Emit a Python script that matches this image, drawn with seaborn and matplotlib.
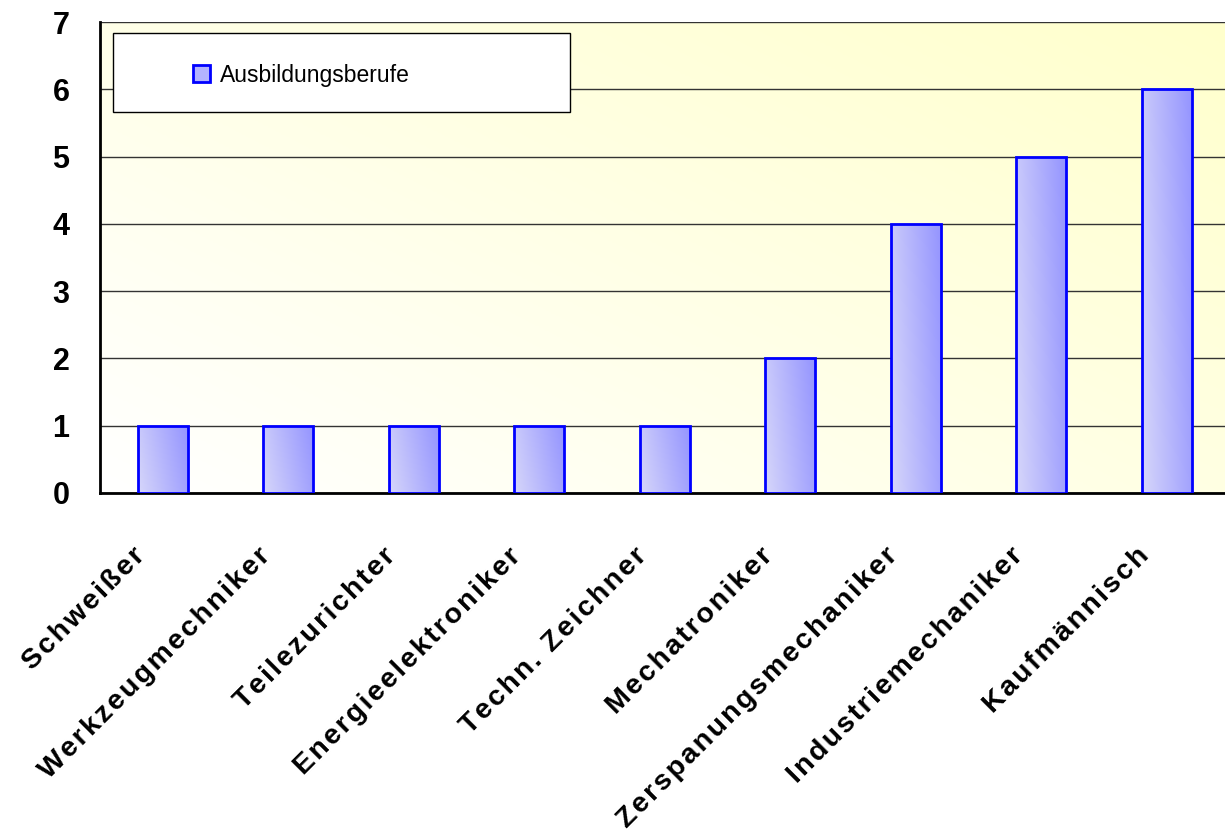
import numpy as np
import matplotlib
matplotlib.use('Agg')
import matplotlib.pyplot as plt
import matplotlib.transforms as mtransforms
from matplotlib.patches import Rectangle
import seaborn as sns

# Daten
berufe = ['Schweißer', 'Werkzeugmechniker', 'Teilezurichter', 'Energieelektroniker',
          'Techn. Zeichner', 'Mechatroniker', 'Zerspanungsmechaniker',
          'Industriemechaniker', 'Kaufmännisch']
anzahl = [1, 1, 1, 1, 1, 2, 4, 5, 6]
serie = 'Ausbildungsberufe'
y_ticks = [0, 1, 2, 3, 4, 5, 6, 7]

sns.set_style('white')
plt.rcParams['font.family'] = ['Liberation Sans', 'DejaVu Sans']
plt.rcParams['text.color'] = 'black'
plt.rcParams['xtick.color'] = 'black'
plt.rcParams['ytick.color'] = 'black'

fig = plt.figure(figsize=(12.25, 8.34), dpi=100)
rect = [100 / 1225, 1 - 493 / 834, 1125 / 1225, 471 / 834]

# Hintergrund mit Verlauf (weiß -> hellgelb)
bg = fig.add_axes(rect, zorder=0)
gx, gy = np.meshgrid(np.linspace(0, 1, 200), np.linspace(1, 0, 200))
t = (gx * 0.55 + gy * 0.45)
c0 = np.array([1.0, 1.0, 1.0])
c1 = np.array([1.0, 1.0, 0.80])
grad = c0 + (c1 - c0) * t[..., None]
bg.imshow(grad, extent=[0, 1, 0, 1], aspect='auto', origin='upper')
bg.axis('off')

ax = fig.add_axes(rect, zorder=1)
ax.set_facecolor('none')

sns.barplot(x=berufe, y=anzahl, ax=ax, width=0.4, color='#B3B3FF',
            edgecolor='#0000FF', linewidth=2, label=serie, saturation=1, zorder=3)

ax.set_xlim(-0.5, 8.464)
ax.set_ylim(0, 7)
ax.set_yticks(y_ticks)
ax.set_yticklabels([str(v) for v in y_ticks], fontsize=22, fontweight='bold')
ax.yaxis.grid(True, color='#333333', lw=1)
ax.set_axisbelow(True)

# Beschriftungen der x-Achse (gesperrt)
gesperrt = ['\u200a'.join(b) for b in berufe]
ax.set_xticks(range(len(berufe)))
ax.set_xticklabels(gesperrt, rotation=45, ha='right', va='top',
                   rotation_mode='anchor', fontsize=20.5, fontweight='bold')
ax.tick_params(axis='x', which='major', length=0, pad=36)
ax.set_xticks(np.arange(-0.5, 9, 1), minor=True)
ax.tick_params(axis='x', which='minor', length=9, width=1, color='black', direction='out')
ax.tick_params(axis='y', length=9, width=1, color='black', direction='out', pad=13)
offset = mtransforms.ScaledTranslation(-0.31, 0, fig.dpi_scale_trans)
for lab in ax.get_xticklabels():
    lab.set_transform(lab.get_transform() + offset)

ax.set_xlabel('')
ax.set_ylabel('')
for side in ['left', 'bottom']:
    ax.spines[side].set_color('black')
    ax.spines[side].set_linewidth(2)
ax.spines['top'].set_visible(False)
ax.spines['right'].set_visible(False)

# Legende
box = Rectangle((0.0116, 0.809), 0.4062, 0.1677, transform=ax.transAxes,
                facecolor='white', edgecolor='black', lw=1, zorder=5)
ax.add_patch(box)
leg = ax.legend(loc='center', bbox_to_anchor=(0.179, 0.887), frameon=False,
                fontsize=16.5, handlelength=0.75, handleheight=0.75, handletextpad=0.4)
leg.set_zorder(6)
for txt in leg.get_texts():
    txt.set_color('black')

# Balken mit Farbverlauf
bars = [p for p in ax.patches if p is not box]
bx, by = np.meshgrid(np.linspace(0, 1, 50), np.linspace(1, 0, 100))
bt = bx * 0.8 + by * 0.2
b0 = np.array([0.84, 0.84, 0.98])
b1 = np.array([0.58, 0.58, 1.0])
bgrad = b0 + (b1 - b0) * bt[..., None]
for p in bars:
    x0, y0 = p.get_x(), p.get_y()
    w, h = p.get_width(), p.get_height()
    im = ax.imshow(bgrad, extent=[x0, x0 + w, y0, y0 + h], aspect='auto',
                   origin='upper', zorder=3.5)
    im.set_clip_path(p)
    p.set_facecolor('none')
    p.set_zorder(4)

ax.set_xlim(-0.5, 8.464)
ax.set_ylim(0, 7)

fig.savefig('out.png', dpi=100)
